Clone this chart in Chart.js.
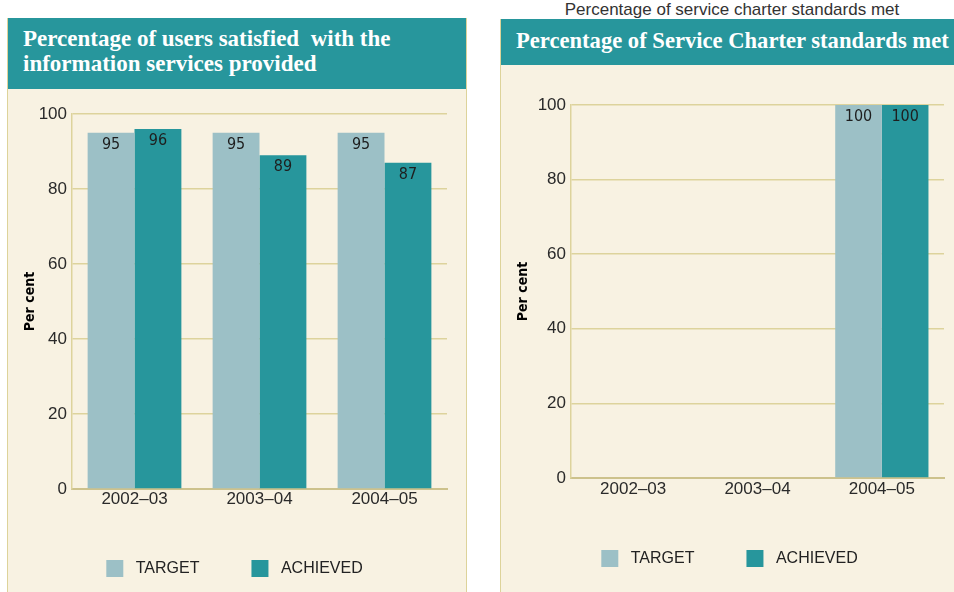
<!DOCTYPE html>
<html>
<head>
<meta charset="utf-8">
<script src="https://cdn.jsdelivr.net/npm/chart.js@4.4.1/dist/chart.umd.min.js"></script>
<style>
  body { margin: 0; background: #fff; width: 954px; height: 592px; overflow: hidden; position: relative; }
  .panel { position: absolute; background: #f8f2e2; border: 1.5px solid #ddd39a; border-top: none; }
  .hd { background: #27969c; color: #fff; font-family: "Liberation Serif", serif; font-weight: bold; font-size: 23px; box-sizing: border-box; white-space: nowrap; }
  #p1 { left: 7px; top: 18px; width: 458px; height: 600px; }
  #p1 .hd { height: 71px; padding: 8px 0 0 15px; line-height: 25px; }
  #p2 { left: 500px; top: 19px; width: 470px; height: 600px; }
  #p2 .hd { height: 46px; padding: 9px 0 0 15px; line-height: 26px; font-size: 22.6px; }
  canvas { display: block; }
  #cap { position: absolute; left: 480px; width: 504px; top: 0px; text-align: center; font-family: "Liberation Sans", Arial, sans-serif; font-size: 17px; color: #333; line-height: 20px; }
</style>
</head>
<body>
<div id="cap">Percentage of service charter standards met</div>
<div class="panel" id="p1">
  <div class="hd">Percentage of users satisfied&nbsp; with the<br>information services provided</div>
  <canvas id="c1" width="457" height="502"></canvas>
</div>
<div class="panel" id="p2">
  <div class="hd">Percentage of Service Charter standards met</div>
  <canvas id="c2" width="453" height="526"></canvas>
</div>
<script>
const years = ["2002–03", "2003–04", "2004–05"];
const yTicks = [0, 20, 40, 60, 80, 100];

// users satisfied with information services
const satTarget = [95, 95, 95];
const satAchieved = [96, 89, 87];

// service charter standards met
const charterTarget = [0, 0, 100];
const charterAchieved = [0, 0, 100];

const targetColor = "#9cc0c6";
const achievedColor = "#27969c";
const gridColor = "#ddd39c";

// value labels at the top inside each bar
const barLabels = {
  id: "barLabels",
  afterDatasetsDraw(chart) {
    const ctx = chart.ctx;
    ctx.save();
    ctx.font = "16px 'Liberation Sans Narrow', 'DejaVu Sans Condensed', sans-serif";
    ctx.fillStyle = "#1e1e1e";
    ctx.textAlign = "center";
    ctx.textBaseline = "top";
    chart.data.datasets.forEach((ds, i) => {
      chart.getDatasetMeta(i).data.forEach((bar, j) => {
        if (!ds.data[j]) return;
        ctx.fillText(String(ds.data[j]), bar.x, bar.y + 4);
      });
    });
    ctx.restore();
  }
};

// x axis box is kept short so the legend sits where it should; let the labels spill below it
const roomForLabels = {
  id: "roomForLabels",
  afterLayout(chart) {
    chart.scales.x.bottom = chart.scales.x.top + 30;
  }
};

function makeChart(id, target, achieved, o) {
  return new Chart(document.getElementById(id), {
    type: "bar",
    data: {
      labels: years,
      datasets: [
        { label: "TARGET", data: target, backgroundColor: targetColor },
        { label: "ACHIEVED", data: achieved, backgroundColor: achievedColor }
      ]
    },
    options: {
      responsive: false,
      animation: false,
      categoryPercentage: 0.75,
      barPercentage: 1.0,
      layout: { padding: { left: o.left, right: o.right, top: o.top, bottom: o.bottom } },
      plugins: {
        tooltip: { enabled: false },
        legend: {
          position: "bottom",
          labels: {
            boxWidth: 17, boxHeight: 17, padding: 52,
            color: "#222",
            font: { family: "'Liberation Sans', Arial, sans-serif", size: 16 },
            generateLabels: c => Chart.defaults.plugins.legend.labels.generateLabels(c)
              .map(l => Object.assign(l, { text: " " + l.text }))
          }
        }
      },
      scales: {
        x: {
          grid: { display: false, drawTicks: false },
          border: { color: "#cdc28c", width: 2 },
          ticks: { color: "#2a2a2a", padding: o.xPad, font: { family: "'Liberation Sans', Arial, sans-serif", size: 17 } },
          afterFit: s => { s.height = o.xHeight; }
        },
        y: {
          min: 0, max: 100,
          afterBuildTicks: s => { s.ticks = yTicks.map(v => ({ value: v })); },
          grid: { color: gridColor, lineWidth: 1.5, drawTicks: false },
          border: { color: gridColor, width: 1.5 },
          ticks: { color: "#2a2a2a", padding: 5, font: { family: "'Liberation Sans', Arial, sans-serif", size: 17 } },
          title: {
            display: true, text: "Per cent", color: "#000",
            padding: { top: 0, bottom: 0 },
            font: { family: "'Liberation Sans Narrow', 'DejaVu Sans Condensed', sans-serif", size: 14, weight: "bold" }
          },
          afterFit: s => { s.width = o.yWidth; }
        }
      }
    },
    plugins: [barLabels, roomForLabels]
  });
}

makeChart("c1", satTarget, satAchieved, { left: 14, right: 18, top: 25, bottom: 4, xPad: 0, xHeight: 19, yWidth: 50 });
makeChart("c2", charterTarget, charterAchieved, { left: 14, right: 10, top: 40, bottom: 14, xPad: 1, xHeight: 20, yWidth: 56 });
</script>
</body>
</html>
